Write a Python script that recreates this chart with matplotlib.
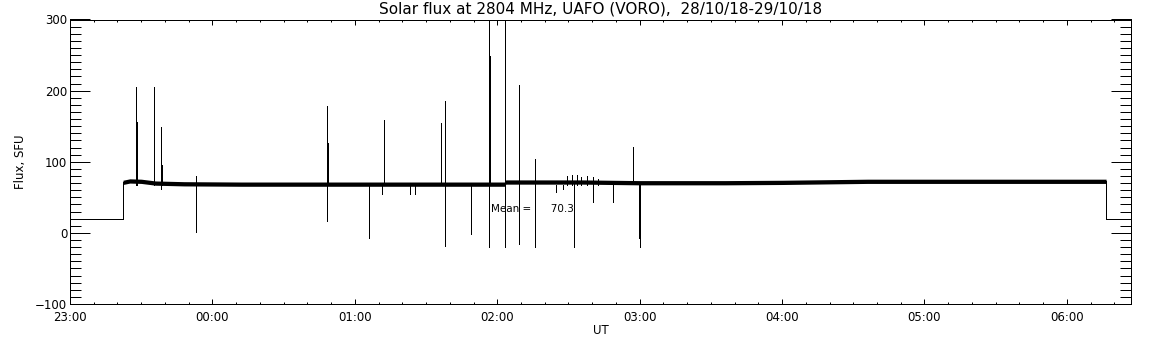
import matplotlib
matplotlib.use("Agg")
import matplotlib.pyplot as plt
from matplotlib.ticker import MultipleLocator

# ---- data (hours since 23:00 UT) ----
x_max = 7.45
off_level = 20.0
on_start = 0.372
on_end = 7.275

# baseline (noisy band) levels
base_t = [0.372, 0.42, 0.50, 0.60, 0.80, 1.20, 1.80, 2.50, 3.05, 3.06, 3.60, 4.00, 4.60, 5.00, 5.60, 6.00, 7.275]
base_v = [71.0, 73.0, 72.5, 70.0, 69.0, 68.5, 68.5, 68.5, 68.5, 71.5, 71.5, 70.5, 70.5, 71.0, 72.5, 72.5, 72.5]
band_half = 3.0

# spikes: time, low value, high value
spike_t = [0.461, 0.467, 0.592, 0.639, 0.643, 0.883, 1.807, 1.812, 2.102, 2.193,
           2.207, 2.388, 2.425, 2.607, 2.636, 2.816, 2.819, 2.945, 2.952, 3.057,
           3.151, 3.268, 3.413, 3.460, 3.490, 3.525, 3.541, 3.560, 3.590, 3.630,
           3.671, 3.673, 3.710, 3.815, 3.956, 3.994, 4.005]
spike_lo = [68, 68, 68, 62, 68, 1, 16, 68, -7, 55,
            68, 54, 55, 68, -19, -2, 54, -20, 68, -20,
            -16, -20, 57, 62, 68, 68, -20, 68, 68, 68,
            43, 68, 68, 44, 70, -7.5, -20]
spike_hi = [205, 156, 205, 149, 96, 80, 179, 127, 68, 68,
            159, 68, 68, 155, 186, 68, 68, 330, 249, 330,
            208, 104, 68, 68, 80, 82, 72, 81, 78, 80,
            72, 78, 76, 72, 121, 72, 72]

mean_text = "Mean =      70.3"
mean_pos = (2.954, 34.0)

xtick_pos = [0, 1, 2, 3, 4, 5, 6, 7]
xtick_lab = ["23:00", "00:00", "01:00", "02:00", "03:00", "04:00", "05:00", "06:00"]
yticks = [-100, 0, 100, 200, 300]

title = "Solar flux at 2804 MHz, UAFO (VORO),  28/10/18-29/10/18"

# ---- figure ----
plt.rcParams["font.family"] = ["DejaVu Sans"]
fig = plt.figure(figsize=(11.52, 3.45), dpi=100)
ax = fig.add_axes([70 / 1152, 1 - 304 / 345, (1131 - 70) / 1152, (304 - 19.5) / 345])

lw = 0.72
ax.plot([0, on_start, on_start], [off_level, off_level, base_v[0]], color="black", lw=lw, antialiased=False)
ax.plot([on_end, on_end, x_max], [base_v[-1], off_level, off_level], color="black", lw=lw, antialiased=False)
lo = [v - band_half for v in base_v]
hi = [v + band_half for v in base_v]
ax.fill_between(base_t, lo, hi, color="black", lw=0, antialiased=False)
ax.vlines(spike_t, spike_lo, spike_hi, color="black", lw=lw, antialiased=False)

ax.text(mean_pos[0], mean_pos[1], mean_text, fontsize=7.5, va="center", ha="left")

ax.set_xlim(0, x_max)
ax.set_ylim(-100, 300)
ax.set_xticks(xtick_pos)
ax.set_xticklabels(xtick_lab)
ax.xaxis.set_minor_locator(MultipleLocator(1 / 6))
ax.set_yticks(yticks)
ax.yaxis.set_minor_locator(MultipleLocator(10))

ax.tick_params(axis="x", which="major", direction="in", length=3.6, width=0.72, top=True, bottom=True,
               labelsize=8.5, pad=5)
ax.tick_params(axis="x", which="minor", direction="in", length=1.7, width=0.72, top=True, bottom=True)
ax.tick_params(axis="y", which="major", direction="in", length=14.4, width=0.72, left=True, right=True,
               labelsize=8.5, pad=2)
ax.tick_params(axis="y", which="minor", direction="in", length=7.9, width=0.72, left=True, right=True)
for s in ax.spines.values():
    s.set_linewidth(0.72)

ax.set_xlabel("UT", fontsize=8.5, labelpad=0)
ax.set_ylabel("Flux, SFU", fontsize=8.5, labelpad=6)
ax.set_title(title, fontsize=11, pad=4)

fig.savefig("out.png", dpi=100)
